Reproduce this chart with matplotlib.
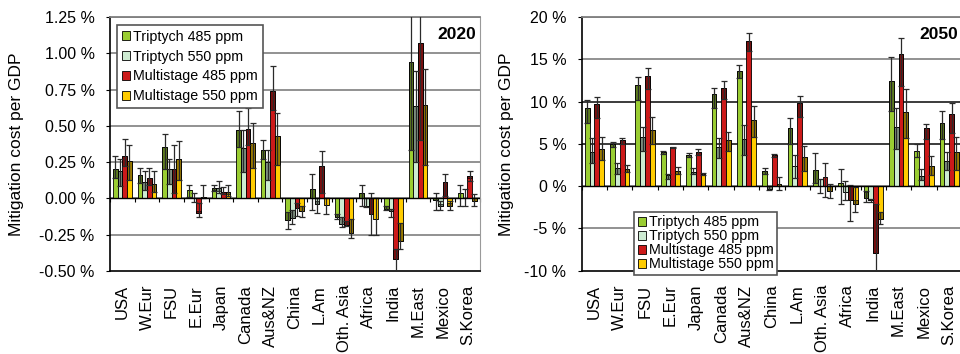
import numpy as np
import matplotlib
matplotlib.use("Agg")
import matplotlib.pyplot as plt
from matplotlib.patches import Patch

plt.rcParams['font.family'] = ['Liberation Sans', 'DejaVu Sans']

regions = ["USA", "W.Eur", "FSU", "E.Eur", "Japan", "Canada", "Aus&NZ", "China",
           "L.Am", "Oth. Asia", "Africa", "India", "M.East", "Mexico", "S.Korea"]
series = ["Triptych 485 ppm", "Triptych 550 ppm", "Multistage 485 ppm", "Multistage 550 ppm"]
colors = ["#9acd32", "#cdebd2", "#cc1a1a", "#ffcc00"]

# ---- 2020 (fraction of GDP, %) : value, start of dark shading, error range ----
t485_2020 = [0.205, 0.16, 0.355, 0.055, 0.07, 0.47, 0.335, -0.15, 0.065, -0.125, 0.04, -0.07, 0.94, -0.01, 0.04]
t485_2020_sh = [0.14, 0.105, 0.20, 0.055, 0.06, 0.355, 0.27, -0.095, 0.0, -0.11, 0.0, -0.05, 0.335, 0.0, 0.04]
t485_2020_lo = [0.14, 0.105, 0.20, 0.01, 0.05, 0.355, 0.27, -0.21, -0.08, -0.14, -0.055, -0.08, 0.335, -0.08, -0.05]
t485_2020_hi = [0.295, 0.21, 0.445, 0.09, 0.095, 0.60, 0.40, -0.095, 0.165, -0.11, 0.095, -0.05, 1.40, 0.04, 0.09]

t550_2020 = [0.19, 0.115, 0.20, 0.005, 0.07, 0.35, 0.25, -0.135, -0.04, -0.175, -0.05, -0.09, 0.64, -0.05, 0.0]
t550_2020_sh = [0.088, 0.06, 0.097, 0.005, 0.05, 0.18, 0.127, -0.08, -0.02, -0.127, -0.05, -0.07, 0.25, -0.04, 0.0]
t550_2020_lo = [0.088, 0.06, 0.097, -0.025, 0.04, 0.18, 0.127, -0.175, -0.10, -0.198, -0.06, -0.125, 0.25, -0.08, -0.05]
t550_2020_hi = [0.27, 0.19, 0.27, 0.04, 0.12, 0.47, 0.333, -0.08, 0.0, -0.127, 0.0, -0.07, 0.88, -0.02, 0.065]

m485_2020 = [0.29, 0.14, 0.205, -0.10, 0.045, 0.475, 0.74, -0.065, 0.22, -0.185, -0.11, -0.42, 1.07, 0.115, 0.155]
m485_2020_sh = [0.22, 0.09, 0.04, -0.09, 0.03, 0.37, 0.61, -0.03, 0.04, -0.155, 0.0, -0.35, 0.40, 0.02, 0.14]
m485_2020_lo = [0.22, 0.09, 0.04, -0.13, 0.03, 0.37, 0.61, -0.12, 0.04, -0.19, -0.25, -0.52, 0.40, 0.02, 0.12]
m485_2020_hi = [0.41, 0.21, 0.365, -0.03, 0.08, 0.62, 0.91, -0.03, 0.33, -0.155, 0.035, -0.35, 1.40, 0.17, 0.19]

m550_2020 = [0.26, 0.10, 0.275, 0.01, 0.045, 0.38, 0.43, -0.085, -0.045, -0.24, -0.14, -0.29, 0.645, -0.05, -0.02]
m550_2020_sh = [0.13, 0.045, 0.127, 0.0, 0.03, 0.207, 0.23, -0.053, -0.045, -0.145, -0.14, -0.166, 0.23, -0.03, 0.0]
m550_2020_lo = [0.13, 0.045, 0.127, 0.0, 0.02, 0.207, 0.23, -0.125, -0.104, -0.276, -0.255, -0.35, 0.23, -0.08, -0.05]
m550_2020_hi = [0.37, 0.19, 0.395, 0.09, 0.095, 0.52, 0.59, -0.053, 0.0, -0.145, 0.0, -0.166, 0.89, -0.02, 0.03]

# ---- 2050 ----
t485_2050 = [9.3, 4.95, 12.0, 4.05, 3.75, 10.9, 13.6, 1.8, 6.9, 1.9, 0.4, -1.45, 12.45, 4.15, 7.5]
t485_2050_sh = [7.5, 4.6, 10.2, 3.85, 3.5, 9.3, 12.85, 1.4, 5.05, 0.35, 0.4, -0.7, 8.9, 4.15, 5.55]
t485_2050_lo = [7.5, 4.6, 10.2, 3.85, 3.5, 9.3, 12.85, 1.4, 5.05, 0.35, -2.05, -1.9, 8.9, 3.4, 5.55]
t485_2050_hi = [10.2, 5.2, 12.9, 4.15, 3.95, 11.6, 14.3, 2.1, 8.1, 3.9, 2.0, -0.6, 15.25, 5.0, 8.9]

t550_2050 = [4.1, 2.1, 5.8, 1.3, 1.7, 4.6, 5.55, -0.35, 2.4, 0.85, -0.65, -1.6, 6.95, 1.2, 3.0]
t550_2050_sh = [2.7, 1.5, 4.15, 0.9, 1.4, 3.3, 3.75, 0.0, 2.4, 0.85, -0.65, -1.5, 4.4, 0.7, 1.9]
t550_2050_lo = [2.7, 1.5, 4.15, 0.9, 1.4, 3.3, 3.75, -0.5, 1.0, -0.85, -1.65, -1.9, 4.4, 0.7, 1.9]
t550_2050_hi = [5.65, 2.8, 7.0, 1.5, 2.2, 5.65, 7.2, 0.0, 3.75, 0.85, 0.6, -1.5, 9.2, 2.0, 4.0]

m485_2050 = [9.7, 5.45, 13.05, 4.6, 4.05, 11.65, 17.15, 3.65, 9.85, 1.05, -1.65, -7.95, 15.6, 6.85, 8.5]
m485_2050_sh = [8.1, 5.0, 11.55, 4.5, 3.75, 10.3, 16.0, 3.45, 8.2, 1.05, 0.0, -2.05, 11.9, 5.55, 6.3]
m485_2050_lo = [8.1, 5.0, 11.55, 4.5, 3.75, 10.3, 16.0, 3.45, 8.2, -1.3, -4.15, -10.5, 11.9, 5.55, 6.3]
m485_2050_hi = [10.6, 5.7, 13.95, 4.65, 4.45, 12.45, 18.15, 3.85, 10.65, 2.7, 0.1, -2.05, 17.5, 7.4, 9.9]

m550_2050 = [4.4, 2.0, 6.6, 1.8, 1.4, 5.45, 7.8, 0.3, 3.4, -0.55, -2.1, -3.85, 8.8, 2.45, 4.0]
m550_2050_sh = [3.1, 1.7, 4.95, 1.5, 1.3, 4.2, 5.85, 0.0, 1.8, 0.0, -1.65, -3.05, 5.65, 1.3, 1.9]
m550_2050_lo = [3.1, 1.7, 4.95, 1.5, 1.3, 4.2, 5.85, -0.4, 1.8, -1.35, -3.05, -4.5, 5.65, 1.3, 1.9]
m550_2050_hi = [5.85, 2.55, 8.2, 2.3, 1.6, 6.45, 9.5, 1.05, 4.75, 0.25, -0.1, -3.05, 11.45, 3.55, 5.85]

yticks_2020 = [-0.5, -0.25, 0.0, 0.25, 0.5, 0.75, 1.0, 1.25]
yticks_2050 = [-10, -5, 0, 5, 10, 15, 20]


def draw_panel(ax, vals, shades, los, his, yticks, fmt, year, black_grid=()):
    x = np.arange(len(regions))
    w = 0.19
    for k in range(4):
        xs = x + (k - 1.5) * w
        v = np.array(vals[k])
        s = np.array(shades[k])
        lo = np.array(los[k])
        hi = np.array(his[k])
        ax.bar(xs, v, w, color=colors[k], edgecolor="black", linewidth=0.6, zorder=3)
        # darker part of the bar
        ax.bar(xs, v - s, w, bottom=s, facecolor=(0, 0, 0, 0.4),
               edgecolor=(0, 0, 0, 0.8), linewidth=0.6, zorder=4)
        ax.errorbar(xs, (lo + hi) / 2, yerr=(hi - lo) / 2, fmt="none",
                    ecolor="#2a2a2a", elinewidth=0.9, capsize=2, capthick=0.9, zorder=5)

    ax.set_xlim(-0.5, len(regions) - 0.5)
    ax.set_ylim(yticks[0], yticks[-1])
    for t in yticks[1:]:
        c = "#1a1a1a" if t in black_grid else "#7f7f7f"
        ax.axhline(t, color=c, lw=1.2, zorder=1)
    ax.axhline(0, color="black", lw=1.0, zorder=6)

    ax.set_yticks(yticks)
    ax.set_yticklabels([fmt.format(t) for t in yticks], fontsize=11.5)
    ax.tick_params(axis="y", length=3, pad=8)
    ax.set_xticks(x)
    ax.set_xticklabels(regions, rotation=90, fontsize=12, va="top")
    ax.tick_params(axis="x", length=0, pad=10)

    # category separator ticks on the zero line
    zero_pos = (0 - yticks[0]) / (yticks[-1] - yticks[0])
    sec = ax.secondary_xaxis(zero_pos)
    sec.set_xticks(np.arange(len(regions) + 1) - 0.5)
    sec.tick_params(axis="x", direction="out", length=3, width=0.8, labelbottom=False,
                    labeltop=False)
    sec.spines["bottom"].set_visible(False)
    sec.spines["top"].set_visible(False)

    for side in ["left", "bottom"]:
        ax.spines[side].set_color("black")
        ax.spines[side].set_linewidth(1.2)
    ax.spines["top"].set_color("#7f7f7f")
    ax.spines["top"].set_linewidth(1.3)
    ax.spines["right"].set_color("#9a9a9a")

    ax.set_ylabel("Mitigation cost per GDP", fontsize=12.5)
    ax.text(0.99, 0.93, year, transform=ax.transAxes, ha="right", va="center",
            fontsize=12.5, fontweight="bold", zorder=7)


fig = plt.figure(figsize=(9.6, 3.54), dpi=100)
ax1 = fig.add_axes([0.1146, 0.2345, 0.385, 0.7175])
ax2 = fig.add_axes([0.606, 0.2353, 0.396, 0.716])

draw_panel(ax1,
           [t485_2020, t550_2020, m485_2020, m550_2020],
           [t485_2020_sh, t550_2020_sh, m485_2020_sh, m550_2020_sh],
           [t485_2020_lo, t550_2020_lo, m485_2020_lo, m550_2020_lo],
           [t485_2020_hi, t550_2020_hi, m485_2020_hi, m550_2020_hi],
           yticks_2020, "{:.2f} %", "2020")
draw_panel(ax2,
           [t485_2050, t550_2050, m485_2050, m550_2050],
           [t485_2050_sh, t550_2050_sh, m485_2050_sh, m550_2050_sh],
           [t485_2050_lo, t550_2050_lo, m485_2050_lo, m550_2050_lo],
           [t485_2050_hi, t550_2050_hi, m485_2050_hi, m550_2050_hi],
           yticks_2050, "{:d} %", "2050", black_grid=(5, 10))

ax1.yaxis.set_label_coords(-0.232, 0.5)
ax2.yaxis.set_label_coords(-0.177, 0.5)

handles = [Patch(facecolor=c, edgecolor="black", linewidth=0.6) for c in colors]
leg1 = ax1.legend(handles, series, loc="upper left", bbox_to_anchor=(0.018, 0.9685),
                  borderaxespad=0, fontsize=10.3, fancybox=False, edgecolor="#555555",
                  framealpha=1, handlelength=0.6, handleheight=0.6, handletextpad=0.2,
                  labelspacing=0.4, borderpad=0.35)
leg1.get_frame().set_linewidth(1.2)
leg1.set_zorder(8)
leg2 = ax2.legend(handles, series, loc="upper left", bbox_to_anchor=(0.1375, 0.2328),
                  borderaxespad=0, fontsize=10.3, fancybox=False, edgecolor="#555555",
                  framealpha=1, handlelength=0.6, handleheight=0.6, handletextpad=0.2,
                  labelspacing=0.0, borderpad=0.25)
leg2.get_frame().set_linewidth(1.2)
leg2.set_zorder(8)

fig.savefig("out.png", dpi=100)
